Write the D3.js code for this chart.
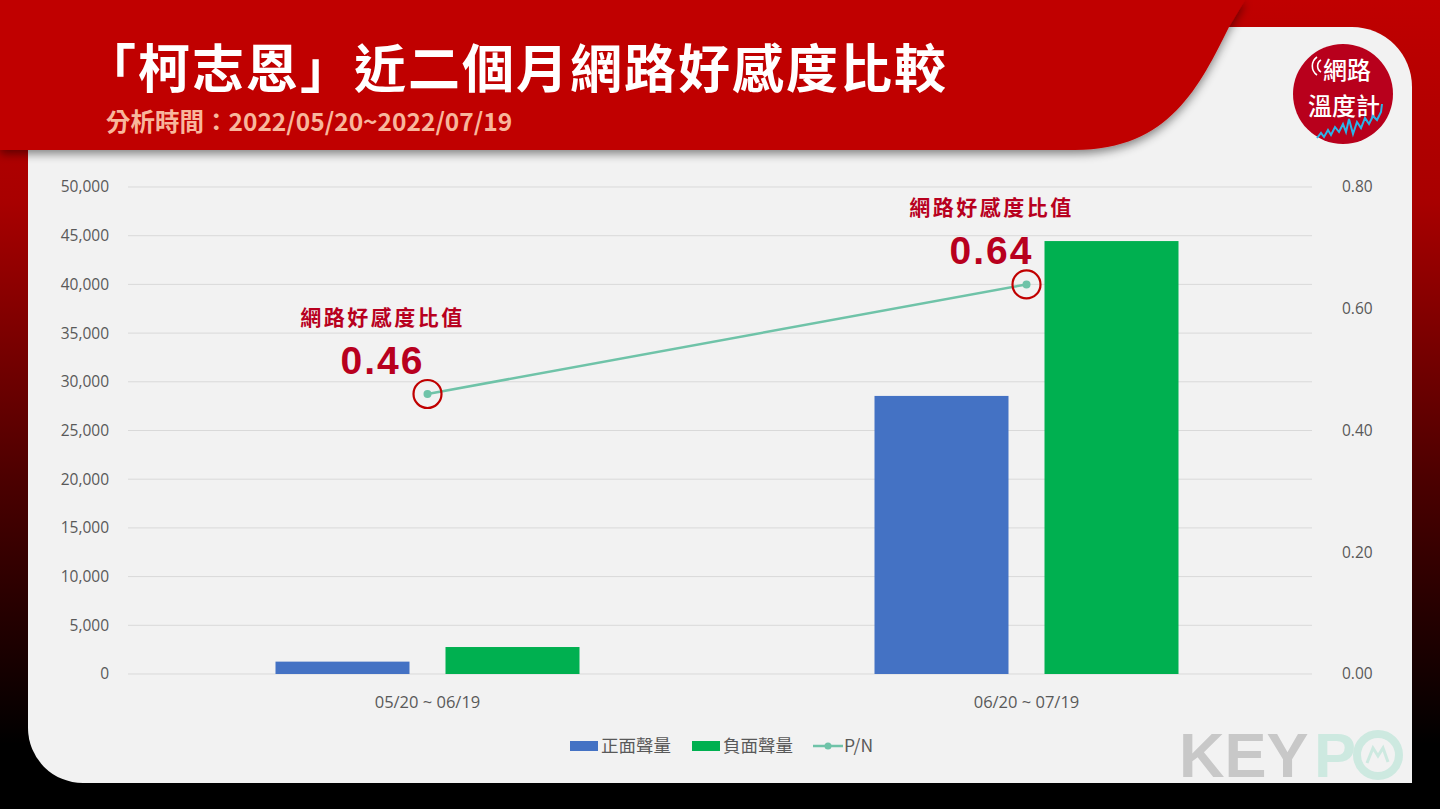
<!DOCTYPE html>
<html><head><meta charset="utf-8">
<script src="https://cdn.jsdelivr.net/npm/d3@7"></script>
<style>html,body{margin:0;padding:0;background:#000;}svg{display:block;}</style>
</head><body>
<script>
const categories = ["05/20 ~ 06/19", "06/20 ~ 07/19"];
const positiveVolume = [1270, 28550];
const negativeVolume = [2770, 44450];
const pnRatio = [0.46, 0.64];
const leftTicks = [0, 5000, 10000, 15000, 20000, 25000, 30000, 35000, 40000, 45000, 50000];
const rightTicks = [0, 0.2, 0.4, 0.6, 0.8];
const seriesNames = ["正面聲量", "負面聲量", "P/N"];
const titleText = "「柯志恩」近二個月網路好感度比較";
const subtitleText = "分析時間：2022/05/20~2022/07/19";
const annotationLabel = "網路好感度比值";
const logoLines = ["網路", "溫度計"];

const W = 1440, H = 809;
const svg = d3.select("body").append("svg").attr("width", W).attr("height", H);
const defs = svg.append("defs");
const bg = defs.append("linearGradient").attr("id","bg").attr("x1",0).attr("y1",0).attr("x2",0).attr("y2",1);
bg.append("stop").attr("offset","0").attr("stop-color","#c00000");
bg.append("stop").attr("offset","0.25").attr("stop-color","#a80000");
bg.append("stop").attr("offset","0.6").attr("stop-color","#4a0000");
bg.append("stop").attr("offset","0.92").attr("stop-color","#000000");
const sh = defs.append("filter").attr("id","shadow").attr("x","-10%").attr("y","-10%").attr("width","120%").attr("height","140%");
sh.append("feDropShadow").attr("dx",0).attr("dy",4).attr("stdDeviation",5).attr("flood-color","#000").attr("flood-opacity",0.45);

svg.append("rect").attr("width",W).attr("height",H).attr("fill","url(#bg)");
svg.append("rect").attr("x",0).attr("y",783).attr("width",W).attr("height",26).attr("fill","#000");

// card
const cx0=28, cx1=1412, cy0=27, cy1=783, rTR=60, rBL=55;
svg.append("path").attr("fill","#f2f2f2")
  .attr("d",`M${cx0},${cy0} H${cx1-rTR} A${rTR},${rTR} 0 0 1 ${cx1},${cy0+rTR} V${cy1} H${cx0+rBL} A${rBL},${rBL} 0 0 1 ${cx0},${cy1-rBL} Z`);

// red banner
svg.append("path").attr("fill","#c00000").attr("filter","url(#shadow)")
  .attr("d","M0,0 H1245 L1229,27 C1200,85 1170,150 1075,150 H0 Z");

svg.append("text").attr("x",84).attr("y",88).attr("fill","#fff")
  .style("font-family","'Noto Sans CJK TC'").style("font-weight","700").style("font-size","52px")
  .style("letter-spacing","2px")
  .text(titleText);
svg.append("text").attr("x",106).attr("y",131).attr("fill","#f8b69c")
  .style("font-family","'Noto Sans CJK TC'").style("font-weight","700").style("font-size","24.5px")
  .text(subtitleText);

// logo
const lg = svg.append("g").attr("transform","translate(1343,94)");
lg.append("circle").attr("r",50).attr("fill","#b8001c");
lg.append("text").attr("x",4).attr("y",-15).attr("text-anchor","middle").attr("fill","#fff")
  .style("font-family","'Noto Sans CJK TC'").style("font-size","24px").style("font-weight","500").text(logoLines[0]);
lg.append("text").attr("x",1).attr("y",21).attr("text-anchor","middle").attr("fill","#fff")
  .style("font-family","'Noto Sans CJK TC'").style("font-size","24px").style("font-weight","500").text(logoLines[1]);
lg.append("path").attr("fill","none").attr("stroke","#fff").attr("stroke-width",1.6)
  .attr("d","M-22,-34 A7,7 0 0 0 -22,-22 M-26,-37 A11,11 0 0 0 -26,-19");
lg.append("polyline").attr("fill","none").attr("stroke","#2bb4e8").attr("stroke-width",2)
  .attr("points","-26,44 -22,39 -19,43 -15,36 -12,41 -8,33 -4,38 0,30 3,38 6,25 10,40 14,28 18,34 22,24 26,30 30,22 34,26 38,18 39,10");

// chart
const plot = {l:128, r:1326, t:187, b:674};
const x = d3.scaleBand().domain(categories).range([plot.l, plot.r]);
const yL = d3.scaleLinear().domain([0,50000]).range([plot.b, plot.t]);
const yR = d3.scaleLinear().domain([0,0.8]).range([plot.b, plot.t]);
const barW = 134, gap = 36;

const g = svg.append("g");
g.selectAll("line.grid").data(leftTicks).join("line")
  .attr("x1",plot.l).attr("x2",1312).attr("y1",d=>yL(d)).attr("y2",d=>yL(d))
  .attr("stroke","#d9d9d9").attr("stroke-width",1);

const tickFont = "'Open Sans','Noto Sans',sans-serif";
const axL = d3.axisLeft(yL).tickValues(leftTicks).tickFormat(d3.format(",")).tickSize(0).tickPadding(0);
const gL = svg.append("g").attr("transform","translate(109,0)").call(axL);
gL.select(".domain").remove();
gL.selectAll("text").attr("fill","#595959").style("font-family",tickFont).style("font-size","15.5px");

const axR = d3.axisRight(yR).tickValues(rightTicks).tickFormat(d3.format(".2f")).tickSize(0).tickPadding(0);
const gR = svg.append("g").attr("transform","translate(1342,0)").call(axR);
gR.select(".domain").remove();
gR.selectAll("text").attr("fill","#595959").style("font-family",tickFont).style("font-size","15.5px");

const axB = d3.axisBottom(x).tickSize(0).tickPadding(0);
const gB = svg.append("g").attr("transform","translate(0,696)").call(axB);
gB.select(".domain").remove();
gB.selectAll("text").attr("fill","#595959").style("font-family",tickFont).style("font-size","16.5px");

const mid = c => x(c) + x.bandwidth()/2;
g.selectAll("rect.pos").data(categories).join("rect")
  .attr("x",c=>mid(c)-gap/2-barW).attr("width",barW)
  .attr("y",(c,i)=>yL(positiveVolume[i])).attr("height",(c,i)=>plot.b-yL(positiveVolume[i]))
  .attr("fill","#4472c4");
g.selectAll("rect.neg").data(categories).join("rect")
  .attr("x",c=>mid(c)+gap/2).attr("width",barW)
  .attr("y",(c,i)=>yL(negativeVolume[i])).attr("height",(c,i)=>plot.b-yL(negativeVolume[i]))
  .attr("fill","#00b050");

const lineC = "#6fc3a8";
const pts = categories.map((c,i)=>[mid(c), yR(pnRatio[i])]);
g.append("path").attr("d",d3.line()(pts)).attr("fill","none").attr("stroke",lineC).attr("stroke-width",2.5);
g.selectAll("circle.pt").data(pts).join("circle").attr("cx",d=>d[0]).attr("cy",d=>d[1]).attr("r",4).attr("fill",lineC);
g.selectAll("circle.ring").data(pts).join("circle").attr("cx",d=>d[0]).attr("cy",d=>d[1]).attr("r",14)
  .attr("fill","none").attr("stroke","#c00000").attr("stroke-width",2.2);

// annotations
const annOffset = [-45, -35];
pts.forEach((p,i)=>{
  const ax = p[0]+annOffset[i];
  g.append("text").attr("x",ax).attr("y",p[1]-69).attr("text-anchor","middle").attr("fill","#b8001e")
    .style("font-family","'Noto Sans CJK TC'").style("font-weight","700").style("font-size","21px")
    .style("letter-spacing","2.5px")
    .text(annotationLabel);
  g.append("text").attr("x",ax).attr("y",p[1]-20).attr("text-anchor","middle").attr("fill","#b8001e")
    .style("font-family","'Liberation Sans',Arial").style("font-weight","700").style("font-size","39px")
    .style("letter-spacing","2px")
    .text(d3.format(".2f")(pnRatio[i]));
});

// legend
const leg = svg.append("g").attr("transform","translate(0,746)");
const legItems = [{x:570,type:"rect",color:"#4472c4"},{x:692,type:"rect",color:"#00b050"},{x:813,type:"line",color:lineC}];
legItems.forEach((it,i)=>{
  if(it.type==="rect"){
    leg.append("rect").attr("x",it.x).attr("y",-5).attr("width",28).attr("height",10).attr("fill",it.color);
  } else {
    leg.append("line").attr("x1",it.x).attr("x2",it.x+30).attr("y1",0).attr("y2",0).attr("stroke",it.color).attr("stroke-width",2.5);
    leg.append("circle").attr("cx",it.x+15).attr("cy",0).attr("r",3.5).attr("fill",it.color);
  }
  leg.append("text").attr("x",it.x+31).attr("y",0).attr("dy","0.36em").attr("fill","#595959")
    .style("font-family","'Noto Sans CJK TC'").style("font-size","17.5px").text(seriesNames[i]);
});

// KEYPO mark
const kp = svg.append("g");
kp.append("text").attr("x",1179).attr("y",777).attr("fill","#c8c8c8")
  .style("font-family","'Liberation Sans',Arial").style("font-weight","700").style("font-size","63px")
  .text("KEY");
kp.append("text").attr("x",1314).attr("y",777).attr("fill","#cde9e0")
  .style("font-family","'Liberation Sans',Arial").style("font-weight","700").style("font-size","63px")
  .text("P");
kp.append("circle").attr("cx",1378).attr("cy",755).attr("r",21).attr("fill","none").attr("stroke","#cde9e0").attr("stroke-width",8);
kp.append("polyline").attr("points","1367,763 1373,748 1378,756 1383,748 1388,762").attr("fill","none").attr("stroke","#cde9e0").attr("stroke-width",3);
</script>
</body></html>
